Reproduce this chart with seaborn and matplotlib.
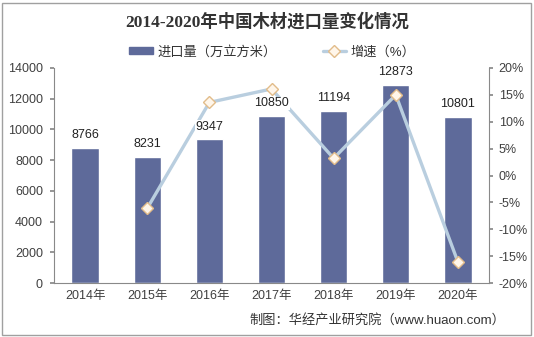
import matplotlib
matplotlib.use("Agg")
import matplotlib.pyplot as plt
import seaborn as sns
import pandas as pd
from matplotlib.patches import Rectangle
from matplotlib.lines import Line2D
from matplotlib.ticker import FuncFormatter

years = ["2014年", "2015年", "2016年", "2017年", "2018年", "2019年", "2020年"]
volume = [8766, 8231, 9347, 10850, 11194, 12873, 10801]
growth_years = ["2015年", "2016年", "2017年", "2018年", "2019年", "2020年"]
growth = [-6.1, 13.6, 16.1, 3.2, 15.0, -16.1]
title = "2014-2020年中国木材进口量变化情况"
legend_bar = "进口量（万立方米）"
legend_line = "增速（%）"
footer = "制图：华经产业研究院（www.huaon.com）"

sns.set_theme(style="white")
SANS = ["Liberation Sans", "Noto Sans CJK SC", "DejaVu Sans"]
plt.rcParams["font.family"] = SANS

W, H = 534, 337
fig = plt.figure(figsize=(W / 100, H / 100), dpi=100)
ax = fig.add_axes([54 / W, 1 - 283 / H, (489 - 54) / W, (283 - 68) / H])

bar_color = "#5E6A9A"
df = pd.DataFrame({"year": years, "volume": volume})
sns.barplot(data=df, x="year", y="volume", color=bar_color, width=0.44,
            saturation=1, ax=ax, order=years)
ax.set_xlim(-0.5, len(years) - 0.5)
ax.set_ylim(0, 14000)
ax.set_yticks(range(0, 14001, 2000))
ax.set_xlabel("")
ax.set_ylabel("")

ax.set_xticks([i + 0.5 for i in range(-1, len(years))])
ax.set_xticklabels([])
ax.set_xticks(range(len(years)), minor=True)
ax.set_xticklabels(years, minor=True, fontsize=9, color="#404040")
ax.tick_params(axis="x", which="major", length=3, color="#898989", direction="out")
ax.tick_params(axis="x", which="minor", length=0, pad=5)
ax.tick_params(axis="y", length=3, color="#898989", direction="out",
               labelsize=9, labelcolor="#404040", pad=5)

for s in ["top", "right"]:
    ax.spines[s].set_visible(False)
for s in ["left", "bottom"]:
    ax.spines[s].set_color("#898989")
    ax.spines[s].set_linewidth(0.8)

ax2 = ax.twinx()
gx = [years.index(y) for y in growth_years]
gdf = pd.DataFrame({"x": gx, "g": growth})
line_color = "#B9CEDF"
sns.lineplot(data=gdf, x="x", y="g", ax=ax2, color=line_color, linewidth=2.4,
             marker="D", markersize=6, markerfacecolor="#FFF6EA",
             markeredgecolor="#E2BC8A", markeredgewidth=1.0)
ax2.set_ylim(-20, 20)
ax2.set_yticks(range(-20, 21, 5))
ax2.yaxis.set_major_formatter(FuncFormatter(lambda v, p: f"{int(v)}%"))
ax2.set_xlim(-0.5, len(years) - 0.5)
ax2.set_ylabel("")
ax2.set_xlabel("")
ax2.tick_params(axis="y", length=3, color="#898989", direction="out",
                labelsize=9, labelcolor="#404040", pad=4)
for s in ["top", "left", "bottom"]:
    ax2.spines[s].set_visible(False)
ax2.spines["right"].set_color("#898989")
ax2.spines["right"].set_linewidth(0.8)

# bar value labels drawn above the line
for i, v in enumerate(volume):
    ax2.annotate(str(v), xy=(i, v), xycoords=ax.transData, xytext=(0, 5),
                 textcoords="offset points", ha="center", va="bottom",
                 fontsize=9, color="#222222", zorder=10,
                 bbox=dict(boxstyle="square,pad=0.05", fc="white", ec="none"))

fig.text(0.5, 1 - 22 / H, title, ha="center", va="center", fontsize=12.5,
         fontweight="bold", color="#333333",
         family=["Liberation Serif", "Noto Sans CJK SC", "DejaVu Sans"])

handles = [Rectangle((0, 0), 1, 1, color=bar_color),
           Line2D([0], [0], color=line_color, linewidth=2.4, marker="D",
                  markersize=6, markerfacecolor="#FFF6EA", markeredgecolor="#E2BC8A")]
fig.legend(handles, [legend_bar, legend_line], loc="center",
           bbox_to_anchor=(0.51, 1 - 52 / H), ncol=2, frameon=False,
           fontsize=9.5, handlelength=1.8, handleheight=0.5, columnspacing=3.5,
           handletextpad=0.3, labelcolor="#333333")

fig.text(505 / W, 1 - 320 / H, footer, ha="right", va="center", fontsize=9.5,
         color="#333333")

fig.add_artist(Rectangle((2 / W, 2 / H), (W - 5) / W, (H - 5) / H,
                         transform=fig.transFigure, fill=False,
                         edgecolor="#A0A0A0", linewidth=1))

fig.savefig("out.png", dpi=100)
